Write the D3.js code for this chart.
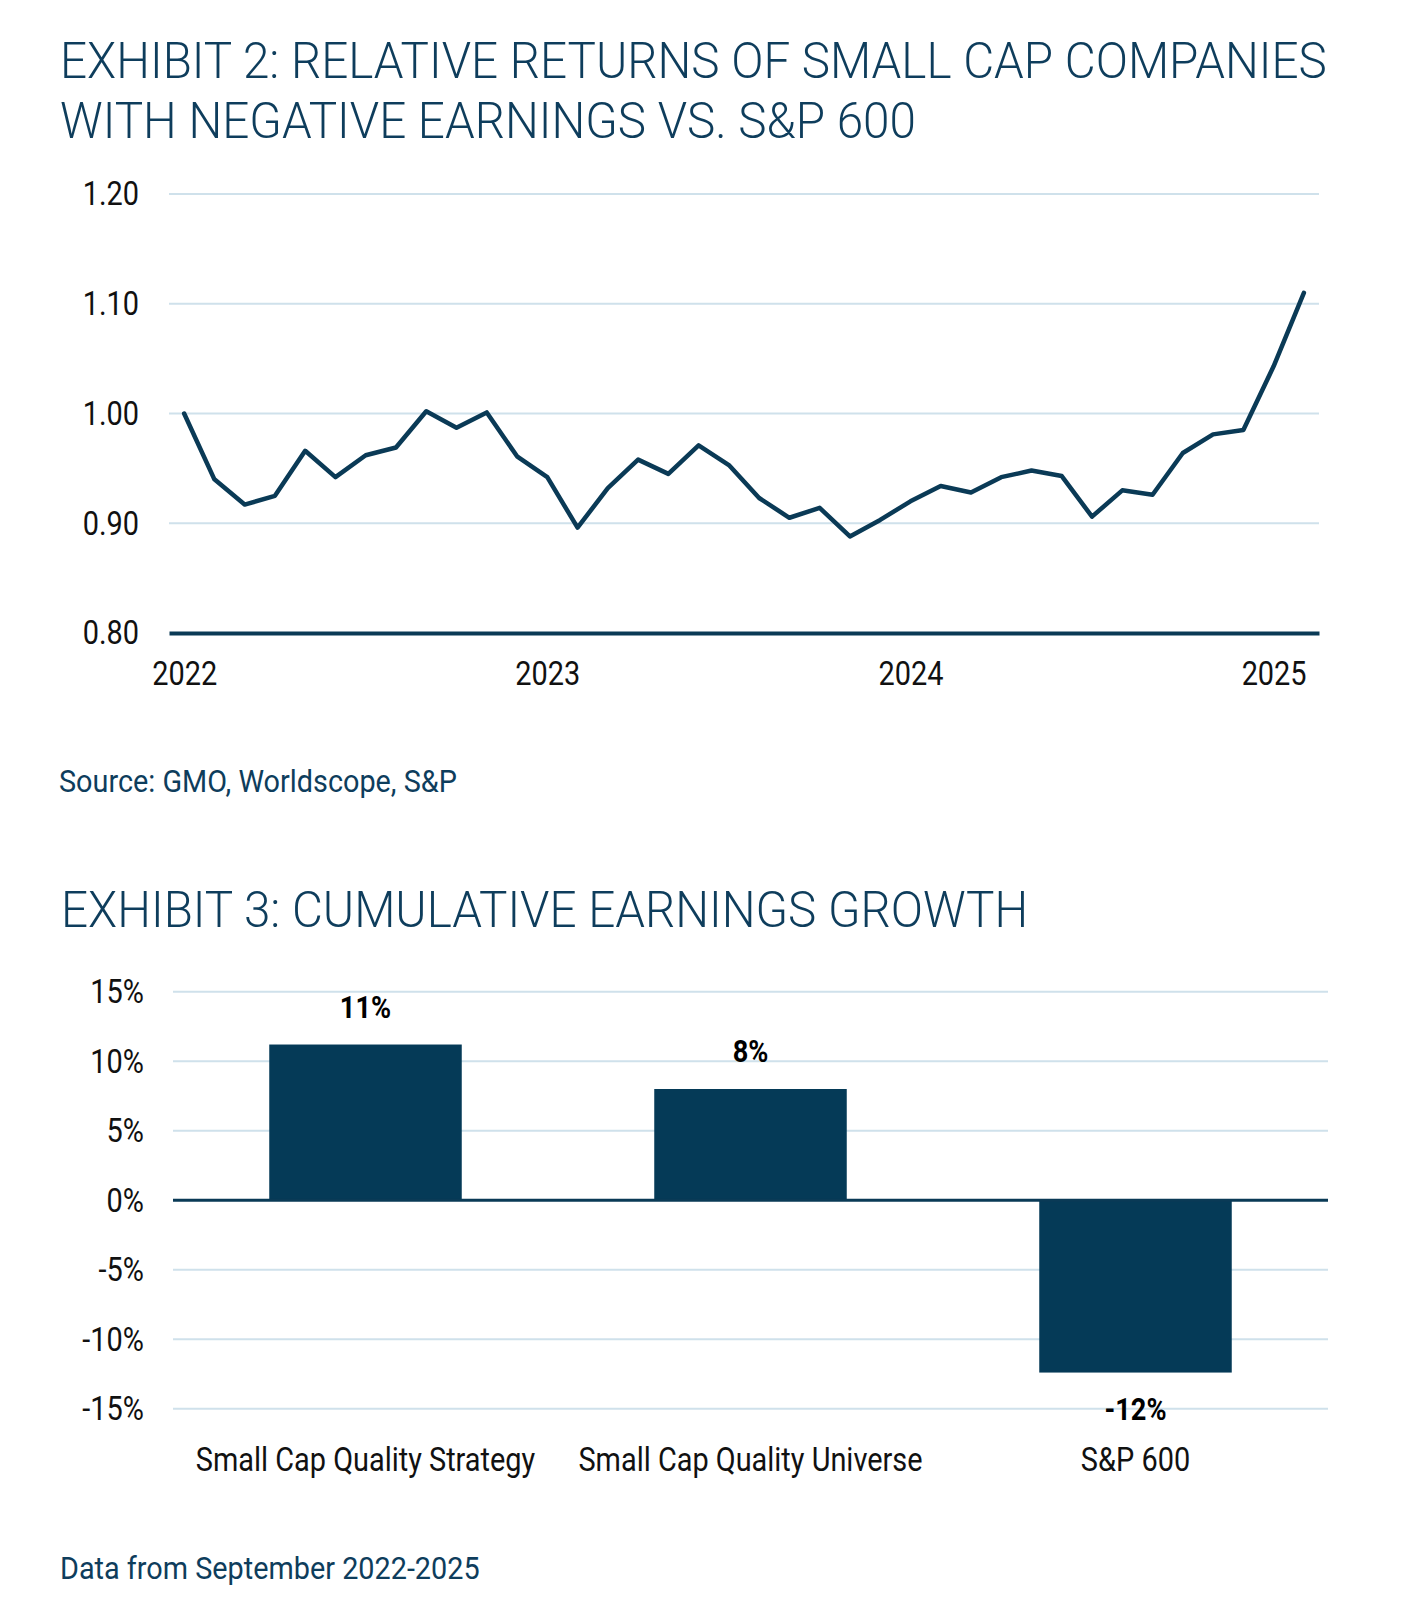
<!DOCTYPE html>
<html>
<head>
<meta charset="utf-8">
<script src="https://cdn.jsdelivr.net/npm/d3@7"></script>
<style>
  html, body { margin: 0; padding: 0; background: #ffffff; }
  svg { display: block; font-family: Roboto, "Noto Sans", sans-serif; }
</style>
</head>
<body>
<svg id="chart" width="1401" height="1612"></svg>
<script>
// ---------- DATA ----------
const title2Lines = ["EXHIBIT 2: RELATIVE RETURNS OF SMALL CAP COMPANIES", "WITH NEGATIVE EARNINGS VS. S&P 600"];
const source2 = "Source: GMO, Worldscope, S&P";
const relativeReturns = [
  1.000, 0.940, 0.917, 0.925, 0.966, 0.942, 0.962, 0.969, 1.002, 0.987, 1.001, 0.961,
  0.942, 0.896, 0.932, 0.958, 0.945, 0.971, 0.953, 0.923, 0.905, 0.914, 0.888, 0.903,
  0.920, 0.934, 0.928, 0.942, 0.948, 0.943, 0.906, 0.930, 0.926, 0.964, 0.981, 0.985,
  1.043, 1.110
];
const yearTickIndex = [0, 12, 24, 36];
const yearTickLabels = ["2022", "2023", "2024", "2025"];
const lineYTicks = [0.80, 0.90, 1.00, 1.10, 1.20];

const title3 = "EXHIBIT 3: CUMULATIVE EARNINGS GROWTH";
const barCategories = ["Small Cap Quality Strategy", "Small Cap Quality Universe", "S&P 600"];
const barValues = [11.2, 8.0, -12.4];
const barLabels = ["11%", "8%", "-12%"];
const barYTicks = [-15, -10, -5, 0, 5, 10, 15];
const footer3 = "Data from September 2022-2025";

// ---------- STYLE ----------
const navy = "#0e3d5c";
const lineColor = "#0a3a56";
const barColor = "#053a57";
const gridColor = "#cfe1eb";
const labelColor = "#111111";
const SX = 0.85; // condensed look
const LABEL_SIZE = 34;

const svg = d3.select("#chart");

function addText(parent, x, y, str, o) {
  return parent.append("text")
    .attr("transform", `translate(${x},${y}) scale(${o.sx || SX},1)`)
    .attr("text-anchor", o.anchor || "start")
    .style("font-size", (o.size || LABEL_SIZE) + "px")
    .style("font-weight", o.weight || 400)
    .style("fill", o.fill || labelColor)
    .text(str);
}

// ---------- TITLES (condensed light) ----------
function addTitle(str) {
  return svg.append("text")
    .style("font-size", "50px").style("font-weight", 300)
    .style("fill", navy)
    .text(str);
}
const t1 = addTitle(title2Lines[0]);
const natural = t1.node().getComputedTextLength();
const titleSX = 1267 / natural;
t1.attr("transform", `translate(60,78) scale(${titleSX},1)`);
addTitle(title2Lines[1]).attr("transform", `translate(60,137.5) scale(${titleSX},1)`);
addTitle(title3).attr("transform", `translate(61,926.5) scale(${titleSX},1)`);

// ---------- EXHIBIT 2: LINE ----------
const x = d3.scaleLinear().domain([-0.5, relativeReturns.length - 0.5]).range([169, 1319]);
const y = d3.scaleLinear().domain([0.8, 1.2]).range([633, 194]);

const g2 = svg.append("g");
g2.selectAll("line.grid").data(lineYTicks.filter(d => d > 0.8)).join("line")
  .attr("class", "grid")
  .attr("x1", x.range()[0]).attr("x2", x.range()[1])
  .attr("y1", d => y(d)).attr("y2", d => y(d))
  .attr("stroke", gridColor).attr("stroke-width", 2);

const yAxis2 = g2.append("g").attr("transform", `translate(${x.range()[0]},0)`)
  .call(d3.axisLeft(y).tickValues(lineYTicks).tickFormat(d3.format(".2f")).tickSize(0).tickPadding(0));
yAxis2.select(".domain").remove();
yAxis2.selectAll("text")
  .attr("x", -30 / SX).attr("dy", "0.32em")
  .attr("transform", `scale(${SX},1)`)
  .style("font-size", LABEL_SIZE + "px").style("font-family", "Roboto").attr("fill", labelColor);

const xAxis2 = g2.append("g").attr("transform", `translate(0,${y(0.8)})`)
  .call(d3.axisBottom(x).tickValues(yearTickIndex).tickFormat((d, i) => yearTickLabels[i]).tickSize(0).tickPadding(0));
xAxis2.select(".domain").attr("stroke", lineColor).attr("stroke-width", 4);
xAxis2.selectAll("text")
  .attr("y", 52).attr("dy", 0)
  .attr("transform", `scale(${SX},1)`)
  .style("font-size", LABEL_SIZE + "px").style("font-family", "Roboto").attr("fill", labelColor);

g2.append("path").datum(relativeReturns)
  .attr("fill", "none").attr("stroke", lineColor).attr("stroke-width", 4.5)
  .attr("stroke-linejoin", "round").attr("stroke-linecap", "round")
  .attr("d", d3.line().x((d, i) => x(i)).y(d => y(d)));

addText(svg, 59, 792, source2, { size: 31, fill: navy, sx: 0.93 });

// ---------- EXHIBIT 3: BARS ----------
const xb = d3.scaleBand().domain(barCategories).range([173, 1328]).paddingInner(0.5).paddingOuter(0.25);
const yb = d3.scaleLinear().domain([-15, 15]).range([1408.7, 991.7]);

const g3 = svg.append("g");
g3.selectAll("line.grid").data(barYTicks.filter(d => d !== 0)).join("line")
  .attr("class", "grid")
  .attr("x1", xb.range()[0]).attr("x2", xb.range()[1])
  .attr("y1", d => yb(d)).attr("y2", d => yb(d))
  .attr("stroke", gridColor).attr("stroke-width", 2);

const yAxis3 = g3.append("g").attr("transform", `translate(${xb.range()[0]},0)`)
  .call(d3.axisLeft(yb).tickValues(barYTicks).tickFormat(d => d + "%").tickSize(0).tickPadding(0));
yAxis3.select(".domain").remove();
yAxis3.selectAll("text")
  .attr("x", -29 / SX).attr("dy", "0.32em")
  .attr("transform", `scale(${SX},1)`)
  .style("font-size", LABEL_SIZE + "px").style("font-family", "Roboto").attr("fill", labelColor);

g3.selectAll("rect.bar").data(barValues).join("rect")
  .attr("class", "bar")
  .attr("x", (d, i) => xb(barCategories[i]))
  .attr("width", xb.bandwidth())
  .attr("y", d => yb(Math.max(0, d)))
  .attr("height", d => Math.abs(yb(d) - yb(0)))
  .attr("fill", barColor);

g3.append("line")
  .attr("x1", xb.range()[0]).attr("x2", xb.range()[1])
  .attr("y1", yb(0)).attr("y2", yb(0))
  .attr("stroke", lineColor).attr("stroke-width", 3);

barValues.forEach((d, i) => {
  const cx = xb(barCategories[i]) + xb.bandwidth() / 2;
  const ty = d >= 0 ? yb(d) - 27 : yb(d) + 47;
  addText(g3, cx, ty, barLabels[i], { size: 32, weight: 700, anchor: "middle", fill: "#000" });
  addText(g3, cx, 1471, barCategories[i], { anchor: "middle" });
});

addText(svg, 60, 1579, footer3, { size: 31, fill: navy, sx: 0.93 });
</script>
</body>
</html>
